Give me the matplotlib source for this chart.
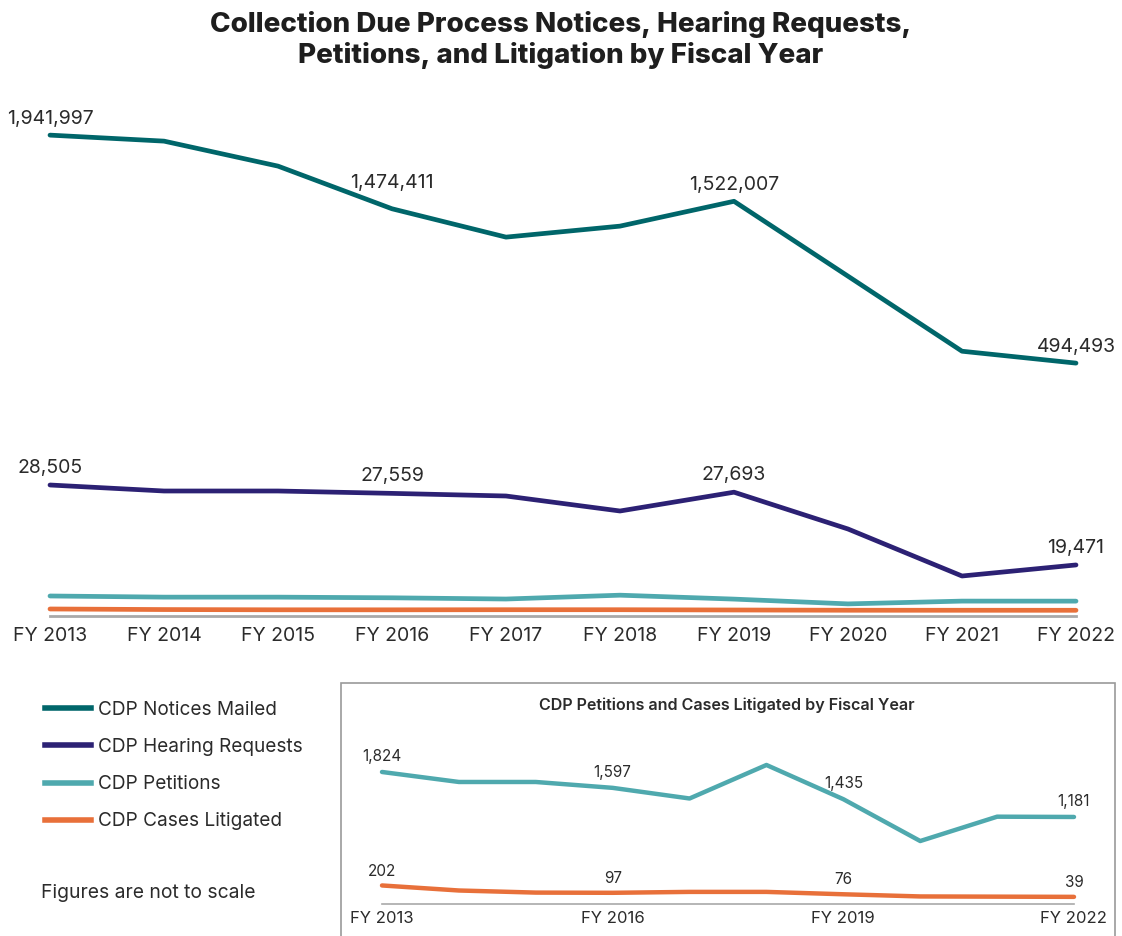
import matplotlib
matplotlib.use("Agg")
import matplotlib.pyplot as plt
from matplotlib.lines import Line2D
from matplotlib.patches import Rectangle

plt.rcParams["font.family"] = ["Inter", "DejaVu Sans"]

years = ["FY 2013", "FY 2014", "FY 2015", "FY 2016", "FY 2017",
         "FY 2018", "FY 2019", "FY 2020", "FY 2021", "FY 2022"]
notices = [1941997, 1903900, 1745200, 1474411, 1294400,
           1364200, 1522007, 1046400, 570000, 494493]
hearings = [28505, 27827, 27827, 27559, 27262,
            25567, 27693, 23533, 18222, 19471]
petitions = [1824, 1681, 1681, 1597, 1445,
             1924, 1435, 837, 1185, 1181]
litigated = [202, 130, 100, 97, 110, 110, 76, 45, 42, 39]

c_notice = "#00666A"
c_hear = "#2C2174"
c_pet = "#4FA9AE"
c_lit = "#E8703A"
c_text = "#2B2B2B"
c_axis = "#A9A9A9"

labeled = [0, 3, 6, 9]
x = list(range(len(years)))

fig = plt.figure(figsize=(11.22, 9.36), dpi=100)

fig.text(0.5, 1 - 40 / 936, "Collection Due Process Notices, Hearing Requests,\nPetitions, and Litigation by Fiscal Year",
         ha="center", va="center", fontsize=20, fontweight="heavy", color="#1E1E1E", linespacing=1.22)

# main chart, each series on its own hidden axis (figures not to scale)
ax = fig.add_axes([50 / 1122, 1 - 616 / 936, 1026 / 1122, 516 / 936])
ax_n = ax.twinx()
ax_h = ax.twinx()
ax_p = ax.twinx()

ax_n.set_ylim(-1111075, 2165009)
ax_h.set_ylim(13702, 72010)
ax_p.set_ylim(-674, 63725)

for a in (ax, ax_n, ax_h, ax_p):
    a.set_xlim(0, 9)
    for s in a.spines.values():
        s.set_visible(False)
    a.set_yticks([])
    a.patch.set_visible(False)

ax.spines["bottom"].set_visible(True)
ax.spines["bottom"].set_color(c_axis)
ax.spines["bottom"].set_linewidth(2)
ax.set_xticks(x)
ax.set_xticklabels(years, fontsize=14, color=c_text)
ax.tick_params(axis="x", length=0, pad=8)

ax_p.plot(x, litigated, color=c_lit, lw=3.4, solid_capstyle="round", clip_on=False)
ax_p.plot(x, petitions, color=c_pet, lw=3.4, solid_capstyle="round", clip_on=False)
ax_h.plot(x, hearings, color=c_hear, lw=3.4, solid_capstyle="round", clip_on=False)
ax_n.plot(x, notices, color=c_notice, lw=3.4, solid_capstyle="round", clip_on=False)

n_off = [5, 12, 5, 5]
for i, off in zip(labeled, n_off):
    ax_n.annotate(f"{notices[i]:,}", (x[i], notices[i]), xytext=(0, off), textcoords="offset points",
                  ha="center", va="bottom", fontsize=14, color=c_text, annotation_clip=False)
for i in labeled:
    ax_h.annotate(f"{hearings[i]:,}", (x[i], hearings[i]), xytext=(0, 6), textcoords="offset points",
                  ha="center", va="bottom", fontsize=14, color=c_text, annotation_clip=False)

# legend
handles = [Line2D([], [], color=c, lw=4) for c in (c_notice, c_hear, c_pet, c_lit)]
names = ["CDP Notices Mailed", "CDP Hearing Requests", "CDP Petitions", "CDP Cases Litigated"]
fig.legend(handles, names, loc="upper left", bbox_to_anchor=(28 / 1122, 1 - 684 / 936),
           frameon=False, fontsize=13.7, handlelength=2.4, handletextpad=0.38,
           labelspacing=1.0, labelcolor=c_text)
fig.text(41 / 1122, 1 - 893 / 936, "Figures are not to scale", fontsize=13.9, color=c_text,
         ha="left", va="center")

# inset box
fig.add_artist(Rectangle((341 / 1122, -0.02), (1115 - 341) / 1122, 0.02 + 1 - 683 / 936,
                         transform=fig.transFigure, fill=False, edgecolor="#9A9A9A", lw=1.2))
fig.text(727 / 1122, 1 - 705 / 936, "CDP Petitions and Cases Litigated by Fiscal Year",
         ha="center", va="center", fontsize=11.6, fontweight="semibold", color=c_text)

ins = fig.add_axes([382 / 1122, 1 - 904 / 936, 692 / 1122, 164 / 936])
ins.set_xlim(0, 9)
ins.set_ylim(-63, 2281)
for s in ins.spines.values():
    s.set_visible(False)
ins.spines["bottom"].set_visible(True)
ins.spines["bottom"].set_color(c_axis)
ins.spines["bottom"].set_linewidth(1.2)
ins.patch.set_visible(False)
ins.set_yticks([])
ins.set_xticks([x[i] for i in labeled])
ins.set_xticklabels([years[i] for i in labeled], fontsize=12, color=c_text)
ins.tick_params(axis="x", length=0, pad=5)

ins.plot(x, petitions, color=c_pet, lw=3.2, solid_capstyle="round", clip_on=False)
ins.plot(x, litigated, color=c_lit, lw=3.2, solid_capstyle="round", clip_on=False)
for i in labeled:
    ins.annotate(f"{petitions[i]:,}", (x[i], petitions[i]), xytext=(0, 6), textcoords="offset points",
                 ha="center", va="bottom", fontsize=11, color=c_text, annotation_clip=False)
    ins.annotate(f"{litigated[i]:,}", (x[i], litigated[i]), xytext=(0, 5), textcoords="offset points",
                 ha="center", va="bottom", fontsize=11, color=c_text, annotation_clip=False)

fig.savefig("out.png", dpi=100)
